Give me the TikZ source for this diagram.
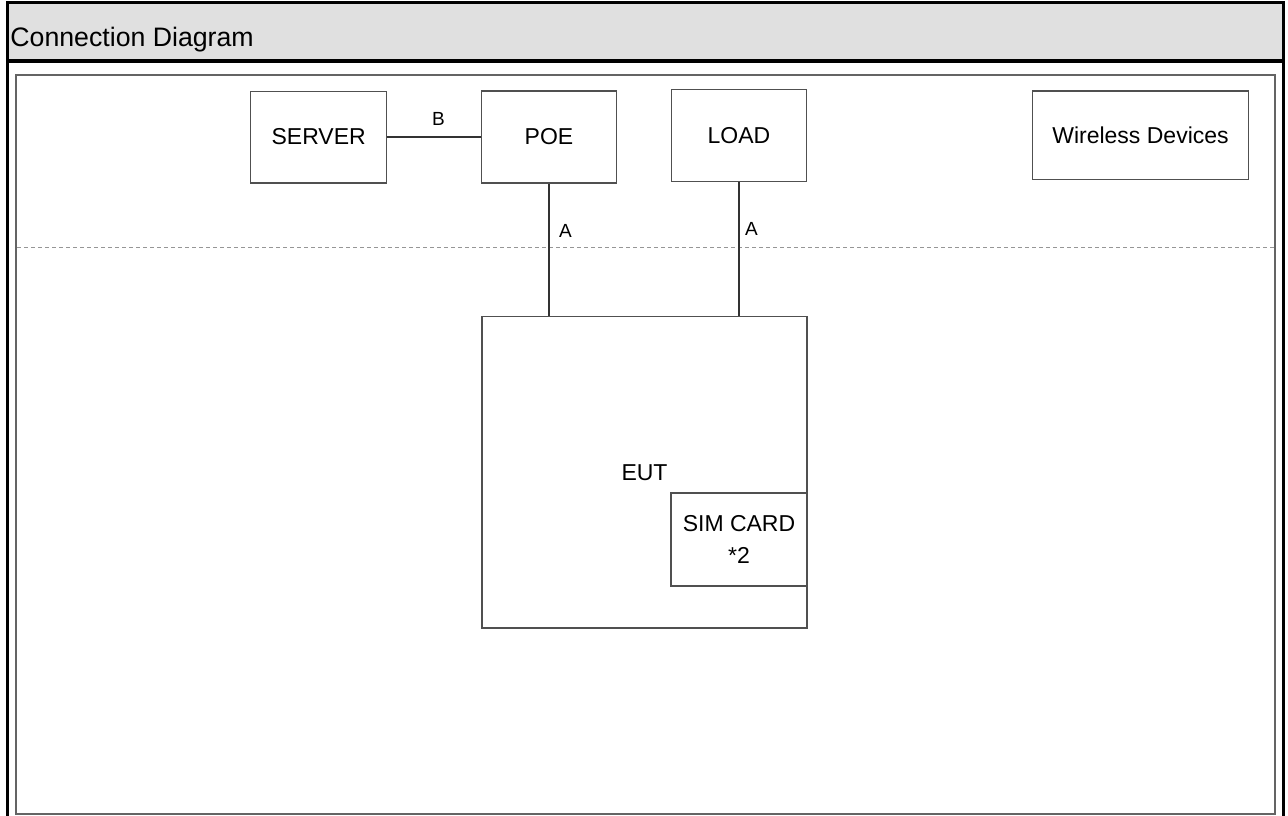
\documentclass[tikz,border=0pt]{standalone}
\usepackage{fontspec}
\setmainfont{Liberation Sans}
\definecolor{headfill}{RGB}{224,224,224}
\definecolor{boxline}{RGB}{80,80,80}
\definecolor{wireline}{RGB}{50,50,50}
\definecolor{framegray}{RGB}{100,100,100}
\definecolor{dashgray}{RGB}{150,150,150}
\tikzset{
  unitbox/.style={draw=boxline, line width=1.3pt, inner sep=0pt, fill=white,
    font=\fontsize{23}{27.6}\selectfont, text=black},
  wire/.style={draw=wireline, line width=1.3pt},
  wirelabel/.style={inner sep=0pt, font=\fontsize{19}{22}\selectfont, text=black},
  zoneline/.style={draw=dashgray, line width=1.3pt, dash pattern=on 4pt off 3pt},
}
\begin{document}
\begin{tikzpicture}[x=1pt,y=-1pt]
  \useasboundingbox (0,0) rectangle (1288,816);

  % title bar and outer frame
  \fill[headfill] (7.7,2.5) rectangle (1283.5,61);
  \draw[line width=3.5pt, black] (7.7,816) -- (7.7,2.5) -- (1283.5,2.5) -- (1283.5,816);
  \draw[line width=3.3pt, black] (7.7,61) -- (1283.5,61);
  \node[anchor=base west, inner sep=0pt, font=\fontsize{26.7}{32}\selectfont] (title)
    at (10.2,46.7) {Connection Diagram};

  % drawing area
  \draw[draw=framegray, line width=2pt] (16.2,75) rectangle (1275,814);
  \coordinate (zoneL) at (17,247.3);
  \coordinate (zoneR) at (1274,247.3);
  \draw[zoneline] (zoneL) -- (zoneR);

  % equipment
  \node[unitbox, minimum width=136pt, minimum height=91.7pt] (server) at (318.7,137) {SERVER};
  \node[unitbox, minimum width=135pt, minimum height=92pt] (poe) at (549,137) {POE};
  \node[unitbox, minimum width=135pt, minimum height=92pt] (load) at (739,135.4) {LOAD};
  \node[unitbox, minimum width=215.6pt, minimum height=88.3pt] (wireless) at (1140.5,135.2) {Wireless Devices};
  \node[unitbox, minimum width=325pt, minimum height=311.5pt] (eut) at (644.5,472.3) {EUT};
  \node[unitbox, minimum width=136pt, minimum height=93pt, align=center,
        font=\fontsize{23}{31.7}\selectfont] (sim) at (739,539.5) {SIM CARD\\*2};

  % cables
  \draw[wire] (server.east) -- (poe.west);
  \draw[wire] (poe.south) -- (poe.south |- eut.north);
  \draw[wire] (load.south) -- (load.south |- eut.north);

  % cable labels
  \node[wirelabel] (labB) at (438.5,118.5) {B};
  \node[wirelabel] (labA1) at (565.5,231) {A};
  \node[wirelabel] (labA2) at (751.5,228.7) {A};
\end{tikzpicture}
\end{document}
